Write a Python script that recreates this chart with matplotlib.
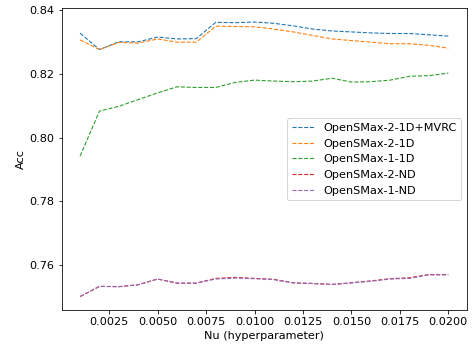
import matplotlib
matplotlib.use("Agg")
import matplotlib.pyplot as plt

nu = [0.001, 0.002, 0.003, 0.004, 0.005, 0.006, 0.007, 0.008, 0.009, 0.010,
      0.011, 0.012, 0.013, 0.014, 0.015, 0.016, 0.017, 0.018, 0.019, 0.020]

smax2_1d_mvrc = [0.8327, 0.8276, 0.8300, 0.8300, 0.8315, 0.8309, 0.8310, 0.8361, 0.8360, 0.8362,
                 0.8358, 0.8350, 0.8340, 0.8334, 0.8331, 0.8328, 0.8326, 0.8326, 0.8322, 0.8318]
smax2_1d = [0.8306, 0.8276, 0.8298, 0.8296, 0.8309, 0.8299, 0.8299, 0.8349, 0.8348, 0.8347,
            0.8340, 0.8331, 0.8320, 0.8309, 0.8304, 0.8299, 0.8294, 0.8294, 0.8289, 0.8280]
smax1_1d = [0.7942, 0.8083, 0.8098, 0.8119, 0.8140, 0.8159, 0.8157, 0.8157, 0.8173, 0.8180,
            0.8177, 0.8175, 0.8177, 0.8186, 0.8174, 0.8175, 0.8180, 0.8192, 0.8194, 0.8202]
smax2_nd = [0.7502, 0.7534, 0.7533, 0.7539, 0.7557, 0.7544, 0.7544, 0.7559, 0.7562, 0.7559,
            0.7556, 0.7545, 0.7543, 0.7540, 0.7545, 0.7551, 0.7558, 0.7561, 0.7571, 0.7571]
smax1_nd = [0.7502, 0.7534, 0.7533, 0.7539, 0.7557, 0.7544, 0.7544, 0.7557, 0.7560, 0.7558,
            0.7555, 0.7545, 0.7543, 0.7540, 0.7545, 0.7550, 0.7557, 0.7559, 0.7570, 0.7570]

labels = ["OpenSMax-2-1D+MVRC", "OpenSMax-2-1D", "OpenSMax-1-1D", "OpenSMax-2-ND", "OpenSMax-1-ND"]
series = [smax2_1d_mvrc, smax2_1d, smax1_1d, smax2_nd, smax1_nd]
colors = ["tab:blue", "tab:orange", "tab:green", "tab:red", "tab:purple"]

plt.rcParams["font.size"] = 11.3

W, H = 473, 347
fig = plt.figure(figsize=(W / 72, H / 72), dpi=72)
ax = fig.add_axes([61.7 / W, 1 - 310.3 / H, (466.7 - 61.7) / W, (310.3 - 8.3) / H])

for ys, lab, c in zip(series, labels, colors):
    ax.plot(nu, ys, linestyle="--", linewidth=1.1, color=c, label=lab)

ax.set_xlabel("Nu (hyperparameter)")
ax.set_ylabel("Acc")
ax.set_yticks([0.76, 0.78, 0.80, 0.82, 0.84])
ax.legend(loc="center right")

fig.savefig("out.png", dpi=72)
